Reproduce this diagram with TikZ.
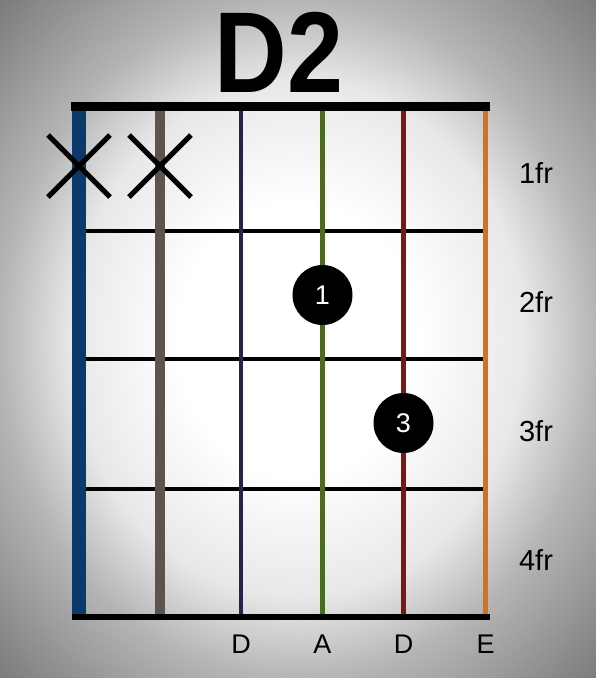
\documentclass[tikz,border=0pt]{standalone}
\usepackage{fontspec}
\setmainfont{Liberation Sans}
\usepackage{tikz}
\usetikzlibrary{positioning}
\definecolor{StrLowE}{HTML}{0A3A6B}
\definecolor{StrA}{HTML}{5F5350}
\definecolor{StrD}{HTML}{2B204F}
\definecolor{StrG}{HTML}{4B6B1F}
\definecolor{StrB}{HTML}{801515}
\definecolor{StrHighE}{HTML}{DB7010}
\pgfdeclareradialshading{chordbg}{\pgfpoint{0bp}{0bp}}{color(0bp)=(white); color(10bp)=(white); color(19bp)=(black!9); color(25bp)=(black!29); color(35.5bp)=(black!52); color(50bp)=(black!52)}
\tikzset{
  fretlbl/.style={font=\fontsize{29}{29}\selectfont, anchor=base, inner sep=0pt},
  strlbl/.style={font=\fontsize{27}{27}\selectfont, anchor=base, inner sep=0pt},
  fingerdot/.style={circle, fill=black, minimum size=60pt, inner sep=0pt, text=white, font=\fontsize{27}{27}\selectfont},
  mutemark/.style={line width=5pt, black},
}

\begin{document}
\begin{tikzpicture}[x=1pt,y=-1pt]
    % background
    \shade[shading=chordbg] (0,0) rectangle (596,678);
    \useasboundingbox (0,0) rectangle (596,678);
    % title
    \node[anchor=base, inner sep=0pt, font=\fontsize{115}{115}\selectfont\bfseries] (title) at (279,92) {\scalebox{0.875}[1]{D2}};
    % frets
    \foreach \y in {231,359,489}
      \draw[line width=4pt] (86,\y) -- (485,\y);
    % strings
    \foreach \i/\x/\w/\c in {1/79/14/StrLowE, 2/160/10/StrA, 3/241/4/StrD, 4/322.5/5/StrG, 5/403.5/5/StrB, 6/485.5/5/StrHighE} {
      \coordinate (s\i top) at (\x,106);
      \coordinate (s\i bot) at (\x,617);
      \draw[line width=\w pt, \c] (s\i top) -- (s\i bot);
    }
    % nut and last line
    \draw[line width=9pt] (71,106.5) -- (490,106.5);
    \draw[line width=6pt] (72,617) -- (490,617);
    % muted strings
    \foreach \x in {79,160} {
      \draw[mutemark] (\x-31,135) -- (\x+31,197);
      \draw[mutemark] (\x-31,197) -- (\x+31,135);
    }
    % fingers
    \node[fingerdot] (f1) at (322.5,295) {1};
    \node[fingerdot] (f3) at (403.5,423) {3};
    % fret numbers
    \node[fretlbl] (fr1) at (536,183) {1fr};
    \node[fretlbl] (fr2) at (536,312) {2fr};
    \node[fretlbl] (fr3) at (536,441) {3fr};
    \node[fretlbl] (fr4) at (536,570) {4fr};
    % string names
    \node[strlbl] (n3) at (241,653) {D};
    \node[strlbl] (n4) at (322.5,653) {A};
    \node[strlbl] (n5) at (403.5,653) {D};
    \node[strlbl] (n6) at (485.5,653) {E};
\end{tikzpicture}
\end{document}
